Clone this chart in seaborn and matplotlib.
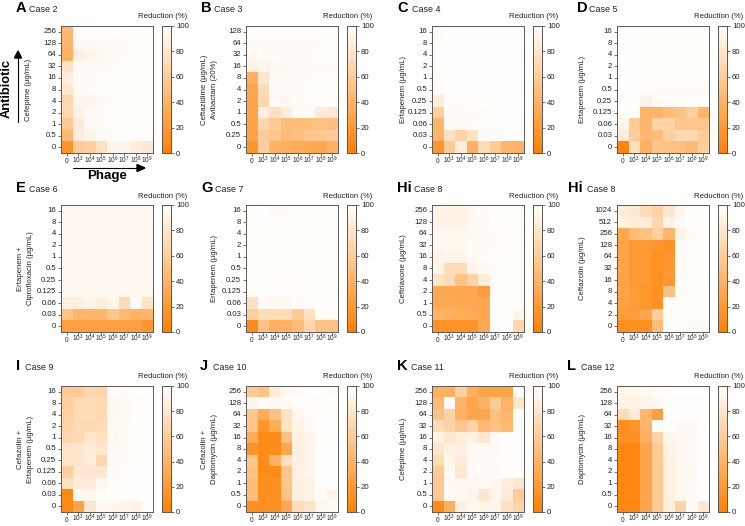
import matplotlib
matplotlib.use("Agg")
import matplotlib.pyplot as plt
from matplotlib.colors import LinearSegmentedColormap
import numpy as np
import pandas as pd
import seaborn as sns

W, H = 745, 526
phage = ["0", r"$\mathregular{10^3}$", r"$\mathregular{10^4}$", r"$\mathregular{10^5}$",
         r"$\mathregular{10^6}$", r"$\mathregular{10^7}$", r"$\mathregular{10^8}$", r"$\mathregular{10^9}$"]

rows_a = ["256", "128", "64", "32", "16", "8", "4", "2", "1", "0.5", "0"]
rows_b = ["128", "64", "32", "16", "8", "4", "2", "1", "0.5", "0.25", "0"]
rows_c = ["16", "8", "4", "2", "1", "0.5", "0.25", "0.125", "0.06", "0.03", "0"]
rows_h = ["1024", "512", "256", "128", "64", "32", "16", "8", "4", "2", "0"]

case2 = [[45,98,98,99,99,99,99,99],[42,95,95,96,96,97,98,98],[38,88,92,95,96,97,98,98],
         [78,96,97,97,98,98,98,98],[87,96,97,98,98,98,98,98],[80,96,97,98,98,98,98,98],
         [68,93,93,96,97,98,98,98],[70,89,96,97,98,98,98,98],[58,84,96,97,98,98,98,98],
         [45,86,91,97,98,98,98,98],[15,60,62,76,93,93,85,82]]
case3 = [[98,98,98,98,98,98,98,98],[97,97,97,97,97,97,98,98],[95,96,96,96,96,97,98,98],
         [90,92,94,95,96,97,97,97],[38,80,96,96,97,97,98,98],[30,72,96,96,97,98,98,98],
         [30,68,96,93,97,98,98,98],[30,88,76,86,97,96,84,82],[28,68,58,48,48,50,52,50],
         [28,60,55,46,50,56,56,60],[18,62,40,37,35,33,32,40]]
case4 = [[97,99,99,99,99,99,99,99],[98,99,99,99,99,99,99,99],[99,99,99,99,99,99,99,99],
         [99,99,99,99,99,99,99,99],[98,99,99,99,99,99,99,99],[97,99,99,99,99,99,99,99],
         [85,98,98,98,99,99,99,99],[62,96,96,97,97,98,99,99],[42,96,96,97,98,99,99,99],
         [40,75,65,78,98,97,99,99],[18,58,85,38,72,58,42,40]]
case5 = [[99,99,98,98,98,98,98,98],[99,99,98,98,98,98,98,98],[99,99,98,98,98,98,98,98],
         [99,99,98,98,98,98,98,98],[99,99,98,98,98,98,98,98],[99,99,97,97,97,97,97,97],
         [98,99,90,96,98,98,98,98],[98,98,40,40,48,52,62,42],[92,58,42,65,65,55,55,55],
         [85,60,45,48,62,70,70,60],[5,75,38,55,50,50,45,62]]
case6 = [[94,94,94,94,94,94,94,94],[94,94,94,94,94,94,94,94],[94,94,94,94,94,94,94,94],
         [94,94,94,94,94,94,94,94],[94,94,94,94,94,94,94,94],[94,94,94,94,94,94,94,94],
         [94,94,94,94,94,94,94,94],[94,94,94,94,94,94,94,94],[88,88,92,86,92,72,96,78],
         [55,42,42,42,55,45,40,42],[25,25,25,25,25,25,25,18]]
case7 = [[98,99,97,97,98,98,98,98],[98,99,98,98,98,98,98,98],[98,98,98,98,98,98,98,98],
         [98,98,98,98,98,98,98,98],[98,98,98,98,98,98,98,98],[98,98,98,97,98,98,98,98],
         [98,98,98,97,98,98,98,98],[98,98,98,97,98,98,98,98],[75,96,94,94,97,98,98,98],
         [62,72,72,72,58,75,98,98],[10,52,38,38,48,68,52,52]]
case8a = [[90,90,90,95,97,98,98,98],[90,90,90,95,96,98,98,98],[94,94,94,96,97,97,98,98],
          [94,94,94,96,97,97,98,98],[90,92,92,96,97,98,98,98],[91,72,72,92,95,97,98,98],
          [78,72,52,65,85,97,98,98],[32,32,32,32,22,97,98,98],[33,33,32,32,32,98,98,98],
          [40,38,35,35,32,98,98,92],[15,15,15,15,32,98,98,68]]
case8b = [[85,82,72,65,82,93,98,98],[90,85,86,68,90,96,98,98],[32,48,52,62,42,90,97,98],
          [28,20,20,18,14,97,98,98],[28,20,20,14,18,97,98,98],[30,20,20,14,18,97,98,98],
          [28,20,20,14,18,97,98,98],[28,22,18,14,52,97,98,98],[26,22,18,14,98,98,98,98],
          [22,22,30,62,98,98,98,98],[12,12,12,48,98,98,97,97]]
case9 = [[58,58,68,66,96,97,99,99],[62,72,72,70,94,96,99,99],[64,72,72,70,94,96,99,99],
         [66,70,70,72,95,97,99,99],[68,70,80,75,94,97,99,99],[80,80,84,80,96,97,99,99],
         [80,80,85,68,96,97,99,99],[62,82,82,80,97,98,99,99],[76,84,84,94,98,99,99,99],
         [8,94,94,97,98,98,99,99],[8,28,80,94,93,92,90,99]]
case10 = [[58,52,85,94,96,99,99,96],[93,98,96,96,98,99,99,99],[55,35,52,78,94,97,99,97],
          [55,18,35,78,90,96,99,99],[35,10,10,52,88,93,99,98],[15,10,10,32,88,93,99,99],
          [55,10,40,75,88,92,99,99],[52,10,10,55,88,92,99,99],[48,12,12,55,88,90,99,99],
          [48,12,12,52,88,90,96,92],[12,12,12,30,72,78,93,97]]
case11 = [[38,38,62,38,28,28,28,97],[45,96,40,30,40,60,40,80],[52,64,38,30,30,50,42,99],
          [72,64,56,65,45,50,45,99],[90,82,86,90,80,96,99,99],[80,88,88,96,96,96,99,99],
          [72,92,84,96,97,97,99,99],[58,95,82,96,97,97,99,99],[57,95,94,94,96,94,86,82],
          [57,96,94,92,82,92,84,60],[8,36,88,94,93,92,76,66]]
case12 = [[92,92,95,96,99,99,99,99],[90,90,92,94,98,99,99,99],[72,84,42,25,99,99,99,99],
          [12,16,42,99,99,95,95,99],[14,14,38,66,92,95,95,99],[6,6,30,58,90,94,96,99],
          [6,6,30,58,88,94,96,99],[6,6,30,58,88,94,94,99],[6,6,30,58,88,94,96,99],
          [6,6,30,58,88,94,97,99],[6,6,30,58,86,65,97,82]]

sns.set_theme(style="white")
plt.rcParams["font.family"] = ["Liberation Sans", "DejaVu Sans"]
plt.rcParams["mathtext.default"] = "regular"
cmap = LinearSegmentedColormap.from_list("orange", ["#ff8000", "#ffffff"])
FRAME = "#5a5a5a"

fig = plt.figure(figsize=(W / 100, H / 100), dpi=100, facecolor="white")


def rect(x0, x1, y0, y1):
    return [x0 / W, 1 - y1 / H, (x1 - x0) / W, (y1 - y0) / H]


def put(x, y, s, **kw):
    fig.text(x / W, 1 - y / H, s, **kw)


panels = [
    ("A", 16, "Case 2", 29, case2, rows_a, "Cefepime (µg/mL)", 29, 61, 26, 153),
    ("B", 201, "Case 3", 214, case3, rows_b, "Ceftazidime (µg/mL)\nAvibactam (20%)", 210, 246, 26, 153),
    ("C", 397, "Case 4", 412, case4, rows_c, "Ertapenem (µg/mL)", 403, 432, 26, 153),
    ("D", 577, "Case 5", 589, case5, rows_c, "Ertapenem (µg/mL)", 582, 617, 26, 153),
    ("E", 16, "Case 6", 29, case6, rows_c, "Ertapenem +\nCiprofloxacin (µg/mL)", 25, 61, 205, 332),
    ("G", 201, "Case 7", 215, case7, rows_c, "Ertapenem (µg/mL)", 214, 246, 205, 332),
    ("Hi", 397, "Case 8", 414, case8a, rows_a, "Ceftriaxone (µg/mL)", 403, 432, 205, 332),
    ("Hi", 568, "Case 8", 587, case8b, rows_h, "Ceftazolin (µg/mL)", 582, 617, 205, 332),
    ("I", 16, "Case 9", 25, case9, rows_c, "Cefazolin +\nErtapenem (µg/mL)", 25, 61, 386, 512),
    ("J", 200, "Case 10", 213, case10, rows_a, "Cefazolin +\nDaptomycin (µg/mL)", 210, 246, 386, 512),
    ("K", 397, "Case 11", 411, case11, rows_a, "Cefepime (µg/mL)", 403, 432, 386, 512),
    ("L", 567, "Case 12", 581, case12, rows_a, "Daptomycin (µg/mL)", 582, 617, 386, 512),
]
head_gap = {26: 18, 205: 17, 386: 20}
unit_gap = {26: 9, 205: 8, 386: 10}

for letter, lx, case, cx, data, rows, ylab, yx, x0, y0, y1 in panels:
    x1 = x0 + 92
    ax = fig.add_axes(rect(x0, x1, y0, y1))
    cax = fig.add_axes(rect(x1 + 9, x1 + 17.5, y0, y1))
    frame = pd.DataFrame(data, index=rows, columns=phage)
    sns.heatmap(frame, vmin=0, vmax=100, cmap=cmap, ax=ax, cbar_ax=cax,
                xticklabels=phage, yticklabels=rows, linewidths=0, rasterized=True)
    ax.tick_params(axis="y", length=2, width=0.6, color=FRAME, labelsize=5.6,
                   labelcolor="#222222", pad=1.5, left=True, labelrotation=0)
    ax.tick_params(axis="x", length=2, width=0.6, color=FRAME, labelsize=4.7,
                   labelcolor="#222222", pad=5.2, bottom=True, labelrotation=0)
    for lab in ax.get_xticklabels():
        lab.set_verticalalignment("baseline")
    ax.set_xlabel("")
    ax.set_ylabel("")
    for side in ax.spines.values():
        side.set_visible(True)
        side.set_color(FRAME)
        side.set_linewidth(0.7)
    cax.tick_params(axis="y", length=2, width=0.6, color=FRAME, labelsize=5.6,
                    labelcolor="#222222", pad=2, right=True)
    cax.set_yticks([0, 20, 40, 60, 80, 100])
    for side in cax.spines.values():
        side.set_visible(True)
        side.set_color(FRAME)
        side.set_linewidth(0.7)
    put(lx, y0 - head_gap[y0], letter, fontsize=10.5, fontweight="bold", color="black", va="center", ha="left")
    put(cx, y0 - head_gap[y0] + 1, case, fontsize=6.4, color="#222222", va="center", ha="left")
    put(x1 + 34, y0 - unit_gap[y0], "Reduction (%)", fontsize=5.6, color="#222222", va="center", ha="right")
    put(yx, (y0 + y1) / 2, ylab, fontsize=5.6, color="#222222", rotation=90,
        va="center", ha="center", linespacing=1.6, multialignment="center")

put(7, 88, "Antibiotic", fontsize=9.3, fontweight="bold", rotation=90, va="center", ha="center", color="black")
put(107, 175.5, "Phage", fontsize=9.6, fontweight="bold", va="center", ha="center", color="black")
fig.add_artist(plt.Line2D([18 / W, 18 / W], [1 - 122 / H, 1 - 58 / H], color="black", lw=0.8))
fig.add_artist(plt.Polygon([[14.5 / W, 1 - 58 / H], [21.5 / W, 1 - 58 / H], [18 / W, 1 - 51 / H]],
                           closed=True, color="black", transform=fig.transFigure))
fig.add_artist(plt.Line2D([73 / W, 137 / W], [1 - 168 / H, 1 - 168 / H], color="black", lw=0.8))
fig.add_artist(plt.Polygon([[137 / W, 1 - 164.5 / H], [137 / W, 1 - 171.5 / H], [145 / W, 1 - 168 / H]],
                           closed=True, color="black", transform=fig.transFigure))

fig.savefig("out.png", dpi=100, facecolor="white")
